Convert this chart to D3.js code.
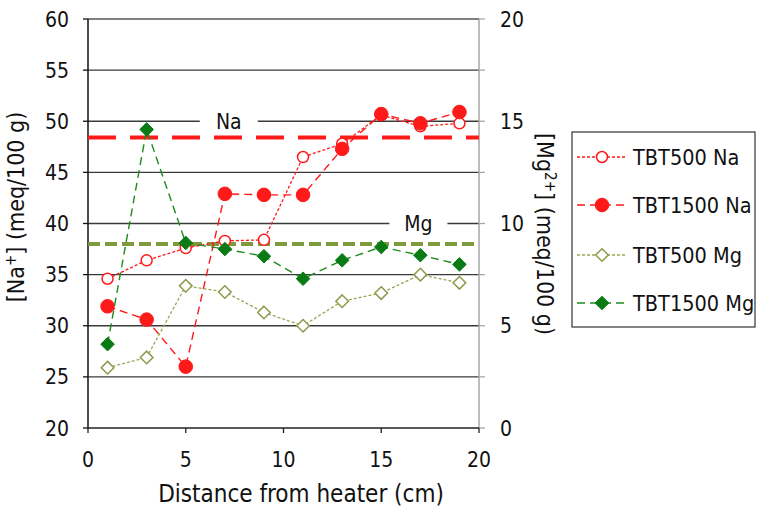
<!DOCTYPE html>
<html><head><meta charset="utf-8">
<script src="https://cdn.jsdelivr.net/npm/d3@7"></script>
<style>
body{margin:0;background:#fff}
svg{display:block}
text{font-family:"DejaVu Sans Condensed","DejaVu Sans",sans-serif;fill:#111}
</style>
</head><body>
<svg id="c" width="757" height="510"></svg>
<script>
// ---- data ----
const distance = [1, 3, 5, 7, 9, 11, 13, 15, 17, 19];
const tbt500Na = [34.6, 36.4, 37.6, 38.3, 38.4, 46.5, 47.8, 50.6, 49.5, 49.8];
const tbt1500Na = [31.9, 30.6, 26.0, 42.9, 42.8, 42.8, 47.3, 50.7, 49.8, 50.9];
const tbt500Mg = [2.95, 3.45, 6.95, 6.65, 5.65, 5.0, 6.2, 6.6, 7.5, 7.1];
const tbt1500Mg = [4.1, 14.6, 9.05, 8.75, 8.4, 7.3, 8.2, 8.85, 8.45, 8.0];
const naReference = 48.4;
const mgReference = 9.0;
const xTicks = [0, 5, 10, 15, 20];
const naTicks = [20, 25, 30, 35, 40, 45, 50, 55, 60];
const mgTicks = [0, 5, 10, 15, 20];
const mgMinorTicks = [0, 2.5, 5, 7.5, 10, 12.5, 15, 17.5, 20];
const seriesNames = ["TBT500 Na", "TBT1500 Na", "TBT500 Mg", "TBT1500 Mg"];

// ---- layout ----
const svg = d3.select("#c");
const x = d3.scaleLinear().domain([0, 20]).range([88, 479]);
const yNa = d3.scaleLinear().domain([20, 60]).range([428, 19]);
const yMg = d3.scaleLinear().domain([0, 20]).range([428, 19]);

const series = [
  {name: seriesNames[0], values: tbt500Na, y: yNa, color: "#ff1a1a", dash: "3,2", lw: 1.3, marker: "circle", filled: false, size: 5.5, mstroke: "#ff1a1a"},
  {name: seriesNames[1], values: tbt1500Na, y: yNa, color: "#ff1a1a", dash: "8,5", lw: 1.4, marker: "circle", filled: true, size: 6.8, mstroke: "#ff1a1a"},
  {name: seriesNames[2], values: tbt500Mg, y: yMg, color: "#9aa650", dash: "3,2", lw: 1.3, marker: "diamond", filled: false, size: 6.3, mstroke: "#8c9a4c"},
  {name: seriesNames[3], values: tbt1500Mg, y: yMg, color: "#1f8a1f", dash: "8,5", lw: 1.4, marker: "diamond", filled: true, size: 6.8, mstroke: "#0a7a14"}
];

// gridlines (Na scale)
svg.append("g").selectAll("line").data(naTicks.slice(1)).join("line")
  .attr("x1", x(0)).attr("x2", x(20))
  .attr("y1", d => yNa(d)).attr("y2", d => yNa(d))
  .attr("stroke", d => d === 60 ? "#555" : "#3a3a3a").attr("stroke-width", 1.3);

// labels Na / Mg on gridlines with white background gaps
const refLabels = [{t: "Na", xv: 7.2, yv: 50, scale: yNa, gap: 29}, {t: "Mg", xv: 16.9, yv: 40, scale: yNa, gap: 29}];
refLabels.forEach(l => {
  svg.append("rect").attr("x", x(l.xv) - l.gap).attr("y", l.scale(l.yv) - 3)
    .attr("width", 2 * l.gap).attr("height", 6).attr("fill", "#fff");
  svg.append("text").attr("x", x(l.xv)).attr("y", l.scale(l.yv) + 7.5)
    .attr("text-anchor", "middle").style("font-size", "21px").text(l.t);
});

// right axis (grey)
const rAxis = svg.append("g");
rAxis.append("line").attr("x1", x(20)).attr("x2", x(20)).attr("y1", yMg(0)).attr("y2", yMg(20))
  .attr("stroke", "#a6a6a6").attr("stroke-width", 1.5);
rAxis.selectAll("line.t").data(mgMinorTicks).join("line").attr("class", "t")
  .attr("x1", x(20)).attr("x2", x(20) + 6).attr("y1", d => yMg(d)).attr("y2", d => yMg(d))
  .attr("stroke", "#a6a6a6").attr("stroke-width", 1.3);
rAxis.selectAll("text").data(mgTicks).join("text")
  .attr("x", 500).attr("y", d => yMg(d)).attr("dy", "0.36em")
  .style("font-size", "21px").text(d => d);

// left axis
const lAxis = svg.append("g");
lAxis.append("line").attr("x1", x(0)).attr("x2", x(0)).attr("y1", yNa(20)).attr("y2", yNa(60))
  .attr("stroke", "#111").attr("stroke-width", 1.5);
lAxis.selectAll("line.t").data(naTicks).join("line").attr("class", "t")
  .attr("x1", x(0) - 5).attr("x2", x(0)).attr("y1", d => yNa(d)).attr("y2", d => yNa(d))
  .attr("stroke", "#111").attr("stroke-width", 1.3);
lAxis.selectAll("text").data(naTicks).join("text")
  .attr("x", 69).attr("y", d => yNa(d)).attr("dy", "0.36em").attr("text-anchor", "end")
  .style("font-size", "21px").text(d => d);

// bottom axis
const bAxis = svg.append("g");
bAxis.append("line").attr("x1", x(0)).attr("x2", x(20)).attr("y1", yNa(20)).attr("y2", yNa(20))
  .attr("stroke", "#222").attr("stroke-width", 1.5);
bAxis.selectAll("line.t").data(xTicks).join("line").attr("class", "t")
  .attr("x1", d => x(d)).attr("x2", d => x(d)).attr("y1", yNa(20)).attr("y2", yNa(20) + 5)
  .attr("stroke", "#222").attr("stroke-width", 1.3);
bAxis.selectAll("text").data(xTicks).join("text")
  .attr("x", d => x(d)).attr("y", 467).attr("text-anchor", "middle")
  .style("font-size", "21px").text(d => d);

// axis titles
svg.append("text").attr("x", 301).attr("y", 502).attr("text-anchor", "middle")
  .style("font-size", "24px").text("Distance from heater (cm)");
const lt = svg.append("text").attr("transform", "translate(24,207) rotate(-90)")
  .attr("text-anchor", "middle").style("font-size", "23px");
lt.append("tspan").text("[Na");
lt.append("tspan").attr("dy", -8).style("font-size", "15px").text("+");
lt.append("tspan").attr("dy", 8).text("] (meq/100 g)");
const rt = svg.append("text").attr("transform", "translate(537,234) rotate(90)")
  .attr("text-anchor", "middle").style("font-size", "23px");
rt.append("tspan").text("[Mg");
rt.append("tspan").attr("dy", -8).style("font-size", "15px").text("2+");
rt.append("tspan").attr("dy", 8).text("] (meq/100 g)");

// reference lines
svg.append("line").attr("x1", x(0)).attr("x2", x(20)).attr("y1", yNa(naReference)).attr("y2", yNa(naReference))
  .attr("stroke", "#ff1a1a").attr("stroke-width", 4).attr("stroke-dasharray", "28,14");
svg.append("line").attr("x1", x(0)).attr("x2", x(20)).attr("y1", yMg(mgReference)).attr("y2", yMg(mgReference))
  .attr("stroke", "#7d9a3c").attr("stroke-width", 4).attr("stroke-dasharray", "12,5");

// markers
function markerPath(type, s) {
  if (type === "diamond") return `M0,${-s}L${s},0L0,${s}L${-s},0Z`;
  return d3.arc()({innerRadius: 0, outerRadius: s, startAngle: 0, endAngle: 2 * Math.PI});
}
function drawMarker(g, sr, cx, cy) {
  g.append("path").attr("transform", `translate(${cx},${cy})`)
    .attr("d", markerPath(sr.marker, sr.size))
    .attr("fill", sr.filled ? sr.mstroke : "#fff")
    .attr("stroke", sr.mstroke).attr("stroke-width", sr.filled ? 1 : 1.5);
}

series.forEach(sr => {
  const g = svg.append("g");
  const line = d3.line().x((d, i) => x(distance[i])).y(d => sr.y(d));
  g.append("path").attr("d", line(sr.values)).attr("fill", "none")
    .attr("stroke", sr.color).attr("stroke-width", sr.lw).attr("stroke-dasharray", sr.dash);
  sr.values.forEach((v, i) => drawMarker(g, sr, x(distance[i]), sr.y(v)));
});

// legend
const lg = svg.append("g");
lg.append("rect").attr("x", 572).attr("y", 132).attr("width", 183).attr("height", 195)
  .attr("fill", "#fff").attr("stroke", "#333").attr("stroke-width", 1.2);
const rowY = [157, 205, 255, 303];
series.forEach((sr, i) => {
  const yy = rowY[i];
  lg.append("line").attr("x1", 577).attr("x2", 627).attr("y1", yy).attr("y2", yy)
    .attr("stroke", sr.color).attr("stroke-width", sr.lw).attr("stroke-dasharray", sr.dash);
  drawMarker(lg, sr, 602, yy);
  lg.append("text").attr("x", 633).attr("y", yy).attr("dy", "0.36em")
    .style("font-size", "21.5px").text(sr.name);
});
</script>
</body></html>
